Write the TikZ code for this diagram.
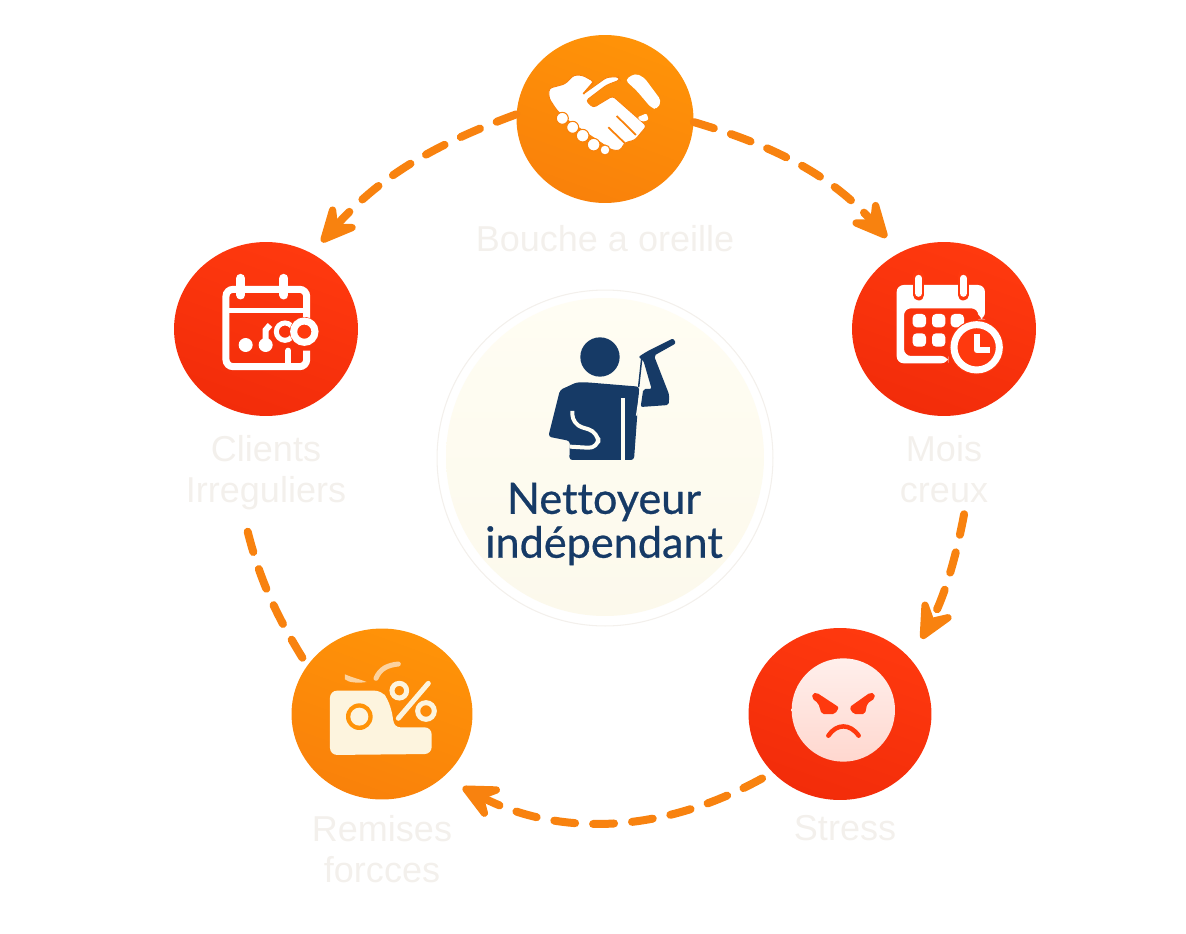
\documentclass[tikz,border=0pt]{standalone}
\usepackage{fontspec}
\setmainfont{Liberation Sans}
\newfontfamily\hubfont[FakeBold=0.6,Ligatures=NoCommon]{Lato}
\usetikzlibrary{shapes.geometric,arrows.meta,positioning}
\definecolor{warmhi}{HTML}{FF9308}
\definecolor{warmlo}{HTML}{F9810A}
\definecolor{hothi}{HTML}{FF390E}
\definecolor{hotlo}{HTML}{F22C0A}
\definecolor{flowcol}{HTML}{F8820F}
\definecolor{navy}{HTML}{163A66}
\definecolor{ghost}{HTML}{F3F0EC}
\definecolor{cream}{HTML}{FDF4DE}
\definecolor{paper}{HTML}{FFFDF3}
\definecolor{paperlo}{HTML}{FCF9EC}
\tikzset{
    warm/.style = {
        ellipse, inner sep=0pt, top color=warmhi, bottom color=warmlo,
        shading angle=-20
    },
    hot/.style = {
        ellipse, inner sep=0pt, top color=hothi, bottom color=hotlo,
        shading angle=-20
    },
    lab/.style  = {
        inner sep=0pt, text=ghost, align=center,
        font=\fontsize{20.5}{23.3}\selectfont
    },
    flow/.style = {
        draw=flowcol, line width=0.16cm, line cap=round,
        dash pattern=on 0.42cm off 0.36cm
    },
    head/.style = {-{Stealth[length=1cm,width=0.95cm,inset=0.42cm,round]}},
    zoomed/.style = {shift={#1}, scale=0.3333}
}

\begin{document}
\begin{tikzpicture}[x=0.02cm, y=-0.02cm]
  \useasboundingbox (0,0) rectangle (1186,933);

  % hub
  \node [circle, inner sep=0pt, minimum size=6.72cm, fill=white, draw=ghost, line width=0.6pt]
        (halo) at (605,458) {};
  \node [circle, inner sep=0pt, minimum size=6.36cm, top color=paper, bottom color=paperlo]
        (hub) at (605,457) {};
  \node [text=navy, align=center, font=\hubfont\fontsize{24.6}{25}\selectfont]
        (hubtxt) at (604,524) {Nettoyeur\\indépendant};

  % ring
  \node [warm, minimum width=3.54cm, minimum height=3.36cm] (bouche)  at (605,119) {};
  \node [hot,  minimum width=3.68cm, minimum height=3.48cm] (clients) at (266,329) {};
  \node [hot,  minimum width=3.68cm, minimum height=3.48cm] (mois)    at (944,329) {};
  \node [hot,  minimum width=3.66cm, minimum height=3.44cm] (stress)  at (840,714) {};
  \node [warm, minimum width=3.62cm, minimum height=3.42cm] (remises) at (382,714) {};

  \node [lab, below=0.44cm of bouche]  (bouchelab)  {Bouche a oreille};
  \node [lab, below=0.38cm of clients] (clientslab) {Clients\\Irreguliers};
  \node [lab, below=0.38cm of mois]    (moislab)    {Mois\\creux};
  \node [lab, below=0.3cm of stress, xshift=0.1cm] (stresslab) {Stress};
  \node [lab, below=0.3cm of remises]  (remiseslab) {Remises\\forcces};

  % links
  \draw [flow, head, shorten >=0.4cm] (bouche.-2) to [bend left=16] (mois.120);
  \draw [flow, head, shorten >=0.3cm] (bouche.177) to [bend right=14] (clients.59);
  \draw [flow, head, shorten <=0.22cm, shorten >=0.46cm] (moislab.-57) to [bend left=9] (stress.38);
  \draw [flow, head, shorten <=0.24cm, shorten >=0.44cm] (stress.221) to [bend left=28] (remises.-46);
  \draw [flow, shorten <=0.18cm, shorten >=0.3cm] (remises.147) to [bend left=9] (clientslab.-122);

  % handshake
  \begin{scope}[zoomed={(450,20)}]
    \fill [white, draw=warmlo, line width=0.5pt, rounded corners=0.06cm]
      (297,205) -- (345,192) -- (372,165) -- (398,166) -- (432,185) -- (400,222)
      -- (470,172) -- (505,170) -- (510,180) -- (470,195) -- (408,242) -- (430,263)
      -- (488,228) -- (590,318) -- (555,360) -- (525,368) -- (510,392) -- (485,390)
      -- (345,295) -- (320,270) -- (297,235) -- cycle;
    \fill [white, rounded corners=0.08cm]
      (525,180) -- (555,160) -- (582,172) -- (634,242) -- (622,268) -- (604,264) -- (560,212) -- cycle;
    \fill [white, rounded corners=0.04cm]
      (562,292) -- (590,280) -- (596,300) -- (575,306) -- cycle;
    \draw [warmlo, line width=1pt] (500,288) -- (558,345) (475,322) -- (525,370)
      (400,222) -- (432,185);
    \foreach \bx/\by/\br in {337/295/18, 368/322/18, 398/347/19, 431/374/19, 465/390/15}
      \fill [white, draw=warmlo, line width=0.6pt] (\bx,\by) circle [radius=\br];
  \end{scope}

  % calendar with beads
  \begin{scope}[zoomed={(150,230)}]
    \draw [white, line width=0.14cm, rounded corners=0.14cm]
      (470,270) -- (470,178) -- (228,178) -- (228,410) -- (470,410) -- (470,362);
    \draw [white, line width=0.1cm] (228,242) -- (470,242);
    \draw [white, line width=0.12cm, line cap=round] (415,362) -- (415,405);
    \draw [white, line width=0.18cm, line cap=round] (272,145) -- (272,195) (402,145) -- (402,195);
    \fill [white] (287,345) circle [radius=21] (347,345) circle [radius=21];
    \draw [white, line width=0.12cm] (347,345) -- (347,300) -- (360,285);
    \draw [white, line width=0.1cm] (405,305) circle [radius=26];
    \fill [hothi] (463,305) circle [radius=44];
    \draw [white, line width=0.14cm] (463,305) circle [radius=32];
  \end{scope}

  % calendar with clock
  \begin{scope}[zoomed={(830,230)}]
    \fill [white, rounded corners=0.14cm]
      (200,165) -- (465,165) -- (465,268) -- (445,268) -- (445,235) -- (222,235)
      -- (222,378) -- (355,378) -- (355,400) -- (200,400) -- cycle;
    \draw [hothi, line width=0.22cm, line cap=round] (266,135) -- (266,195) (400,135) -- (400,195);
    \draw [white, line width=0.14cm, line cap=round] (266,145) -- (266,190) (400,145) -- (400,190);
    \foreach \qx/\qy in {248/252, 306/252, 362/252, 248/310, 306/310}
      \fill [white, rounded corners=0.08cm] (\qx,\qy) rectangle ++(40,40);
    \fill [hothi] (440,352) circle [radius=82];
    \draw [white, line width=0.14cm] (440,352) circle [radius=68];
    \draw [white, line width=0.12cm, line join=round] (440,312) -- (440,360) -- (480,360);
  \end{scope}

  % discount card
  \begin{scope}[zoomed={(280,620)}]
    \fill [cream, rounded corners=0.14cm]
      (150,212) -- (305,212) -- (325,240) -- (340,292) -- (340,322) -- (455,322)
      -- (455,402) -- (150,405) -- cycle;
    \fill [warmhi] (238,290) circle [radius=40];
    \fill [cream] (238,290) circle [radius=27];
    \draw [cream, line width=0.1cm, line cap=round] (355,295) -- (445,190);
    \draw [cream, line width=0.1cm] (358,212) circle [radius=22] (438,273) circle [radius=25];
    \draw [warmlo!30!cream, line width=0.1cm, line cap=round] (288,175) .. controls (300,145) and (325,135) .. (355,132);
    \fill [warmlo!30!cream] (195,163) .. controls (215,172) and (240,178) .. (260,186)
      .. controls (235,190) and (205,188) .. (195,178) -- cycle;
  \end{scope}

  % angry face
  \begin{scope}[zoomed={(740,620)}]
    \shade [top color=white!92!hothi, bottom color=white!80!hothi] (310,270) circle [radius=155];
    \fill [hothi, rounded corners=0.04cm] (218,220) -- (230,218) -- (297,262) -- (285,282) -- (245,282) -- (235,250) -- (216,235) -- cycle;
    \fill [hothi, rounded corners=0.04cm] (403,220) -- (390,218) -- (328,262) -- (340,282) -- (375,282) -- (382,250) -- (405,235) -- cycle;
    \draw [hothi, line width=0.09cm, line cap=round] (265,347) .. controls (290,310) and (330,310) .. (356,347);
  \end{scope}

  % worker
  \begin{scope}[zoomed={(430,285)}]
    \fill [navy] (510,216) circle [radius=59];
    \fill [navy, rounded corners=0.06cm]
      (390,315) -- (440,292) -- (470,292) -- (628,305) -- (612,525) -- (418,525)
      -- (420,468) -- (355,455) -- cycle;
    \fill [navy, rounded corners=0.04cm]
      (640,312) -- (665,312) -- (640,226) -- (625,216) -- (650,200) -- (730,160) -- (738,175)
      -- (672,212) -- (718,330) -- (716,360) -- (632,366) -- cycle;
    \draw [navy, line width=0.03cm] (635,222) -- (626,306);
    \draw [paper, line width=0.08cm] (580,340) -- (580,525);
    \draw [paper, line width=0.03cm] (632,312) -- (620,392);
    \draw [paper, line width=0.08cm, line join=round, rounded corners=0.2cm]
      (427,378) -- (427,418) -- (505,442) -- (505,490) -- (420,485);
  \end{scope}
\end{tikzpicture}
\end{document}
